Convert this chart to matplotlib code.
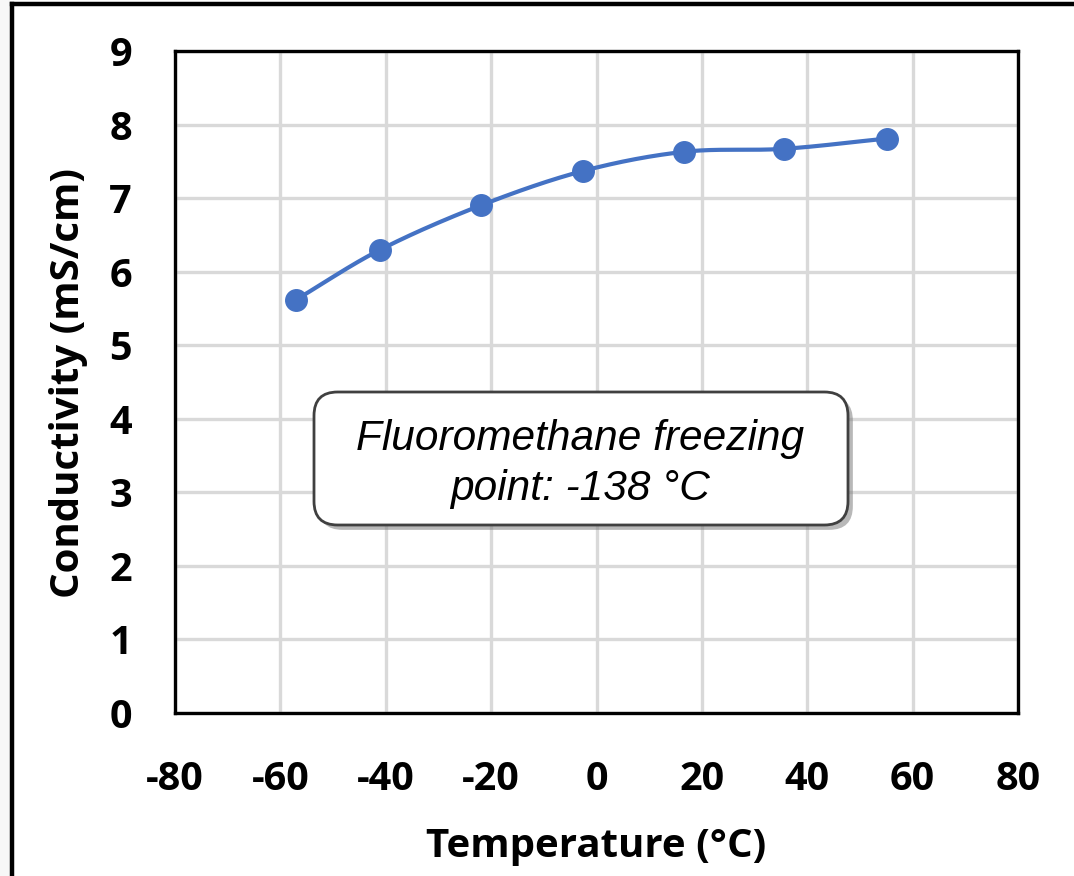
import numpy as np
import matplotlib
matplotlib.use("Agg")
import matplotlib.pyplot as plt
from matplotlib.patches import Rectangle, FancyBboxPatch
import matplotlib.patheffects as pe

plt.rcParams["axes.unicode_minus"] = False

# Data
temperature = [-57, -41, -22, -2.5, 16.7, 35.5, 55.1]
conductivity = [5.62, 6.30, 6.90, 7.37, 7.63, 7.67, 7.81]
x_ticks = [-80, -60, -40, -20, 0, 20, 40, 60, 80]
y_ticks = [0, 1, 2, 3, 4, 5, 6, 7, 8, 9]
x_label = "Temperature (°C)"
y_label = "Conductivity (mS/cm)"
note_lines = ["Fluoromethane freezing", "point: -138 °C"]

BLUE = "#4472C4"
LABEL_FONT = "Open Sans"
W, H = 1074, 876


def catmull_rom(xs, ys, n=40):
    xs = np.asarray(xs, float)
    ys = np.asarray(ys, float)
    px = np.concatenate([[2 * xs[0] - xs[1]], xs, [2 * xs[-1] - xs[-2]]])
    py = np.concatenate([[2 * ys[0] - ys[1]], ys, [2 * ys[-1] - ys[-2]]])
    out_x, out_y = [], []
    t = np.linspace(0, 1, n)
    for i in range(1, len(px) - 2):
        p0, p1, p2, p3 = px[i - 1], px[i], px[i + 1], px[i + 2]
        q0, q1, q2, q3 = py[i - 1], py[i], py[i + 1], py[i + 2]
        c1x, c1y = p1 + (p2 - p0) / 6, q1 + (q2 - q0) / 6
        c2x, c2y = p2 - (p3 - p1) / 6, q2 - (q3 - q1) / 6
        bx = (1 - t) ** 3 * p1 + 3 * (1 - t) ** 2 * t * c1x + 3 * (1 - t) * t ** 2 * c2x + t ** 3 * p2
        by = (1 - t) ** 3 * q1 + 3 * (1 - t) ** 2 * t * c1y + 3 * (1 - t) * t ** 2 * c2y + t ** 3 * q2
        out_x.extend(bx)
        out_y.extend(by)
    return np.array(out_x), np.array(out_y)


def fx(px):
    return px / W


def fy(py_from_top):
    return 1 - py_from_top / H


fig = plt.figure(figsize=(W / 100, H / 100), dpi=100)
fig.patch.set_facecolor("white")

# outer frame (left & top visible)
fig.patches.append(Rectangle((0, 0), fx(10), 1, transform=fig.transFigure,
                             facecolor="#f7f7f7", edgecolor="none", zorder=0))
fig.add_artist(plt.Line2D([fx(12), fx(12)], [0, fy(4)], color="black", lw=3.2,
                          transform=fig.transFigure))
fig.add_artist(plt.Line2D([fx(12), 1.0], [fy(4), fy(4)], color="black", lw=3.2,
                          transform=fig.transFigure))

left, right = fx(175), fx(1018)
bottom, top = fy(713), fy(51)
ax = fig.add_axes([left, bottom, right - left, top - bottom])

ax.set_xlim(-80, 80)
ax.set_ylim(0, 9)
ax.set_xticks(x_ticks)
ax.set_yticks(y_ticks)
ax.grid(True, color="#d9d9d9", lw=2.4, zorder=0)
ax.set_axisbelow(True)
for s in ax.spines.values():
    s.set_linewidth(2.4)
    s.set_color("black")

ax.tick_params(length=0, labelsize=28.5)
ax.tick_params(axis="x", pad=34)
ax.tick_params(axis="y", pad=31)
for lab in ax.get_xticklabels() + ax.get_yticklabels():
    lab.set_fontfamily(LABEL_FONT)
    lab.set_fontweight("bold")

sx, sy = catmull_rom(temperature, conductivity)
ax.plot(sx, sy, color=BLUE, lw=3.0, zorder=3, solid_capstyle="round")
ax.plot(temperature, conductivity, "o", color=BLUE, ms=15.5, zorder=4)

fig.text(fx(596), fy(857), x_label, ha="center", va="baseline",
         fontsize=29, fontweight="bold", fontfamily=LABEL_FONT)
fig.text(fx(69), fy(383), y_label, ha="center", va="center", rotation=90,
         fontsize=29, fontweight="bold", fontfamily=LABEL_FONT)

# annotation box
box = FancyBboxPatch((fx(314), fy(525)), fx(848) - fx(314), fy(392) - fy(525),
                     boxstyle="round,pad=0,rounding_size=0.022", mutation_aspect=W / H,
                     transform=fig.transFigure, facecolor="white", edgecolor="#404040",
                     lw=2.0, zorder=5,
                     path_effects=[pe.SimplePatchShadow(offset=(3.5, -3.5), shadow_rgbFace="#7f7f7f", alpha=0.55),
                                   pe.Normal()])
fig.add_artist(box)
fig.text(fx(580), fy(450), note_lines[0], ha="center", va="baseline", fontsize=30.5,
         style="italic", fontfamily="Liberation Sans", zorder=6)
fig.text(fx(580), fy(500), note_lines[1], ha="center", va="baseline", fontsize=30.5,
         style="italic", fontfamily="Liberation Sans", zorder=6)

fig.savefig("out.png", dpi=100)
